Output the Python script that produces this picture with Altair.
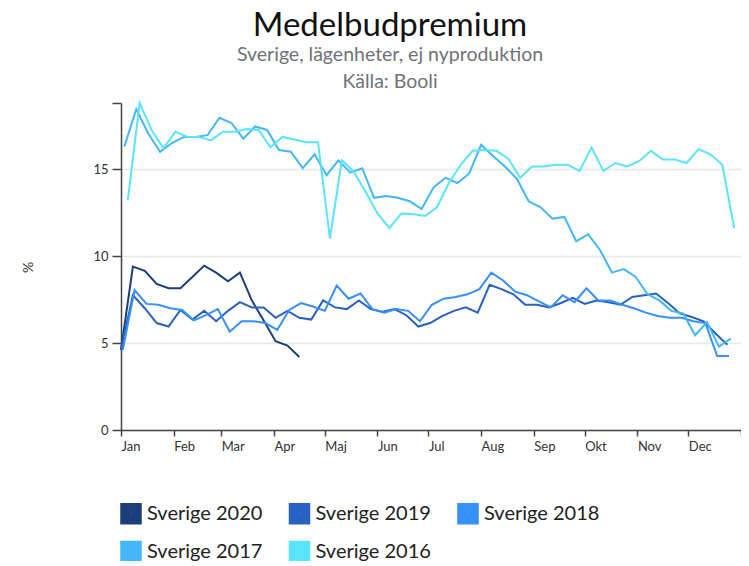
import altair as alt
import pandas as pd
from datetime import date, timedelta

series = ["Sverige 2020", "Sverige 2019", "Sverige 2018", "Sverige 2017", "Sverige 2016"]
colors = ["#1c3f7b", "#2961c3", "#3690fa", "#43b7fa", "#5ae4fc"]
# first weekly observation of each year, mapped onto a common calendar year
first_dates = ["2019-01-01", "2019-01-01", "2019-01-02", "2019-01-03", "2019-01-05"]
month_labels = ["Jan", "Feb", "Mar", "Apr", "Maj", "Jun", "Jul", "Aug", "Sep", "Okt", "Nov", "Dec"]

v2020 = [4.6, 9.4, 9.15, 8.4, 8.15, 8.15, 8.8, 9.45, 9.05, 8.55, 9.05, 7.45, 6.3, 5.1, 4.85, 4.2]
v2019 = [4.6, 7.75, 7.0, 6.15, 5.95, 6.9, 6.35, 6.85, 6.25, 6.85, 7.35, 7.05, 7.05, 6.45, 6.85, 6.45,
         6.35, 7.45, 7.05, 6.95, 7.45, 6.95, 6.8, 6.95, 6.6, 5.95, 6.15, 6.55, 6.85, 7.05, 6.75, 8.35,
         8.1, 7.8, 7.2, 7.2, 7.05, 7.3, 7.6, 7.25, 7.45, 7.35, 7.2, 7.65, 7.75, 7.85, 7.3, 6.7, 6.5,
         6.25, 5.55, 4.9]
v2018 = [4.6, 8.05, 7.25, 7.2, 7.0, 6.9, 6.3, 6.6, 6.95, 5.65, 6.25, 6.25, 6.15, 5.75, 6.9, 7.3,
         7.1, 6.85, 8.3, 7.55, 7.85, 6.95, 6.75, 6.95, 6.85, 6.25, 7.2, 7.55, 7.65, 7.8, 8.1, 9.05,
         8.6, 7.95, 7.75, 7.4, 7.05, 7.75, 7.35, 8.15, 7.45, 7.45, 7.2, 7.0, 6.75, 6.55, 6.45, 6.45,
         6.25, 6.15, 4.25, 4.25]
v2017 = [16.3, 18.45, 17.05, 16.0, 16.5, 16.85, 16.85, 16.95, 17.95, 17.65, 16.75, 17.45, 17.25,
         16.1, 16.0, 15.05, 15.85, 14.65, 15.5, 14.8, 15.05, 13.35, 13.45, 13.35, 13.15, 12.7, 13.95,
         14.5, 14.2, 14.75, 16.4, 15.75, 15.15, 14.45, 13.15, 12.8, 12.15, 12.25, 10.85, 11.25, 10.35,
         9.05, 9.25, 8.8, 7.8, 7.45, 6.85, 6.7, 5.45, 6.2, 4.8, 5.25]
v2016 = [13.2, 18.8, 17.25, 16.2, 17.15, 16.85, 16.85, 16.65, 17.15, 17.15, 17.3, 17.25, 16.25,
         16.85, 16.7, 16.55, 16.55, 11.0, 15.5, 14.85, 13.7, 12.45, 11.6, 12.45, 12.4, 12.3, 12.8,
         14.2, 15.25, 16.05, 16.1, 16.05, 15.6, 14.5, 15.15, 15.15, 15.25, 15.25, 14.9, 16.25, 14.9,
         15.35, 15.15, 15.45, 16.05, 15.55, 15.55, 15.35, 16.15, 15.85, 15.25, 11.6]

values = [v2020, v2019, v2018, v2017, v2016]

rows = []
for name, start, vals in zip(series, first_dates, values):
    d0 = date.fromisoformat(start)
    for i, v in enumerate(vals):
        rows.append({"serie": name, "datum": (d0 + timedelta(days=7 * i)).isoformat(), "varde": v})
df = pd.DataFrame(rows)

tick_values = [alt.DateTime(year=2019, month=m, date=1, utc=True) for m in range(1, 13)]
tick_values.append(alt.DateTime(year=2020, month=1, date=1, utc=True))
label_expr = ("utcyear(datum.value) > 2019 ? '' : "
              + "[" + ",".join("'" + m + "'" for m in month_labels) + "][utcmonth(datum.value)]")

FONT = "Lato"

chart = alt.Chart(df).mark_line().encode(
    x=alt.X(
        "datum:T",
        scale=alt.Scale(
            type="utc",
            domain=[alt.DateTime(year=2019, month=1, date=1, utc=True),
                    alt.DateTime(year=2020, month=1, date=1, utc=True)],
        ),
        axis=alt.Axis(
            title=None, values=tick_values, labelExpr=label_expr, grid=False,
            labelAlign="left", labelFont=FONT, labelFontSize=13, labelColor="#333333",
            labelPadding=4, tickSize=6, tickColor="#444444", domainColor="#444444",
            domainWidth=1.5, tickWidth=1.5,
        ),
    ),
    y=alt.Y(
        "varde:Q",
        scale=alt.Scale(domain=[0, 18.8], nice=False),
        axis=alt.Axis(
            title="%", values=[0, 5, 10, 15, 18.8],
            labelExpr="datum.value % 5 == 0 ? datum.label : ''",
            titleFont=FONT, titleFontSize=14, titleFontWeight="normal", titleColor="#333333",
            titleX=-86, titleY=164,
            labelFont=FONT, labelFontSize=13, labelColor="#333333", labelPadding=4,
            tickSize=9, tickColor="#444444", domainColor="#444444", domainWidth=1.5, tickWidth=1.5,
            gridColor={"condition": {"test": "datum.value > 16", "value": "transparent"},
                       "value": "#e8e8e8"},
            gridWidth=1.5,
        ),
    ),
    strokeWidth=alt.value(2),
    stroke=alt.Stroke(
        "serie:N",
        scale=alt.Scale(domain=series, range=colors),
        sort=series,
        legend=alt.Legend(
            title=None, orient="none", legendX=-1, legendY=399.5, columns=3, direction="horizontal",
            symbolType="square", symbolSize=121, symbolStrokeWidth=10.5, symbolOpacity=1,
            labelFont=FONT, labelFontSize=20, labelColor="#222222", labelOffset=5,
            columnPadding=9.5, rowPadding=-16.5,
        ),
    ),
).properties(
    width=620,
    height=327,
    title=alt.TitleParams(
        text="Medelbudpremium",
        subtitle=["Sverige, lägenheter, ej nyproduktion", "Källa: Booli"],
        font=FONT, fontSize=33, fontWeight="normal", color="#111111",
        subtitleFont=FONT, subtitleFontSize=19.5, subtitleColor="#6e7378",
        subtitleLineHeight=26.5, subtitlePadding=3,
        anchor="middle", frame="group", dx=-41, offset=8,
    ),
    autosize=alt.AutoSizeParams(type="none"),
    padding={"left": 113, "top": 95, "right": 0, "bottom": 131},
).configure_view(stroke=None)

chart.save("out.html", embed_options={"renderer": "svg", "actions": False})
